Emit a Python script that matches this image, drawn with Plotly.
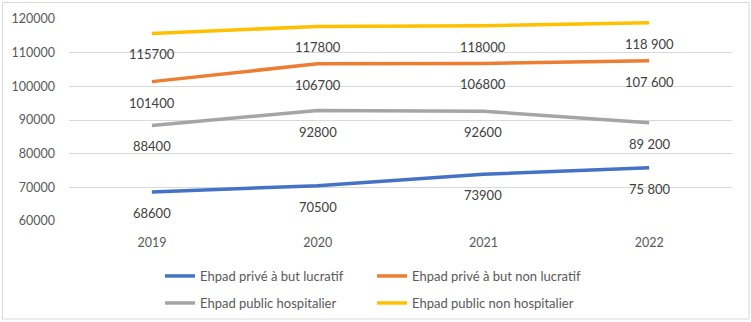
import plotly.graph_objects as go

years = ["2019", "2020", "2021", "2022"]

prive_lucratif = [68600, 70500, 73900, 75800]
prive_non_lucratif = [101400, 106700, 106800, 107600]
public_hospitalier = [88400, 92800, 92600, 89200]
public_non_hospitalier = [115700, 117800, 118000, 118900]

lbl_prive_lucratif = ["68600", "70500", "73900", "75 800"]
lbl_prive_non_lucratif = ["101400", "106700", "106800", "107 600"]
lbl_public_hospitalier = ["88400", "92800", "92600", "89 200"]
lbl_public_non_hospitalier = ["115700", "117800", "118000", "118 900"]

series = [
    ("Ehpad privé à but lucratif", prive_lucratif, lbl_prive_lucratif, "#4472C4", "legend"),
    ("Ehpad privé à but non lucratif", prive_non_lucratif, lbl_prive_non_lucratif, "#ED7D31", "legend"),
    ("Ehpad public hospitalier", public_hospitalier, lbl_public_hospitalier, "#A5A5A5", "legend2"),
    ("Ehpad public non hospitalier", public_non_hospitalier, lbl_public_non_hospitalier, "#FFC000", "legend2"),
]

FONT = "Lato, 'Open Sans', sans-serif"
TXT = "#404040"
AX = "#595959"
FS = 12.5

fig = go.Figure()
annotations = []
for name, vals, labels, color, leg in series:
    fig.add_trace(go.Scatter(
        x=list(range(len(years))), y=vals, name=name, mode="lines",
        line=dict(color=color, width=3.5), legend=leg,
    ))
    for i, (v, t) in enumerate(zip(vals, labels)):
        annotations.append(dict(
            x=i, y=v, xref="x", yref="y", text=t, showarrow=False,
            yshift=-21, font=dict(family=FONT, size=FS + 0.5, color=TXT),
        ))

# Layout geometry in pixels
L, R, T, B = 69, 19, 19, 101
W, H = 751, 322
pw, ph = W - L - R, H - T - B
def px_x(p):
    return (p - L) / pw
def px_y(p):
    return (H - B - p) / ph

# Outer chart border
fig.add_shape(type="rect", xref="paper", yref="paper",
              x0=px_x(2.5), x1=px_x(749), y0=px_y(2.5), y1=px_y(319),
              line=dict(color="#D9D9D9", width=1), fillcolor="rgba(0,0,0,0)",
              layer="below")

legend_common = dict(
    orientation="h", xanchor="left", yanchor="middle",
    entrywidth=167, entrywidthmode="pixels", traceorder="normal",
    font=dict(family=FONT, size=13, color=AX), itemwidth=30,
    bgcolor="rgba(0,0,0,0)",
)

fig.update_layout(
    width=W, height=H,
    margin=dict(l=L, r=R, t=T, b=B, autoexpand=False),
    paper_bgcolor="white", plot_bgcolor="white",
    font=dict(family=FONT, size=FS, color=AX),
    annotations=annotations,
    xaxis=dict(
        range=[-0.5, 3.5], tickmode="array", tickvals=list(range(len(years))),
        ticktext=years, showgrid=False, zeroline=False,
        showline=False, ticks="", tickfont=dict(size=FS, color=AX),
        ticklabelstandoff=12,
    ),
    yaxis=dict(
        range=[60000, 120000], dtick=10000, showgrid=True, gridcolor="#D9D9D9",
        gridwidth=1, zeroline=False, showline=False, ticks="",
        tickformat="d", tickfont=dict(size=FS, color=AX),
        ticklabelstandoff=13,
    ),
    legend=dict(x=px_x(160), y=px_y(276), **legend_common),
    legend2=dict(x=px_x(160), y=px_y(303), **legend_common),
    showlegend=True,
)

fig.write_html("out.html")
